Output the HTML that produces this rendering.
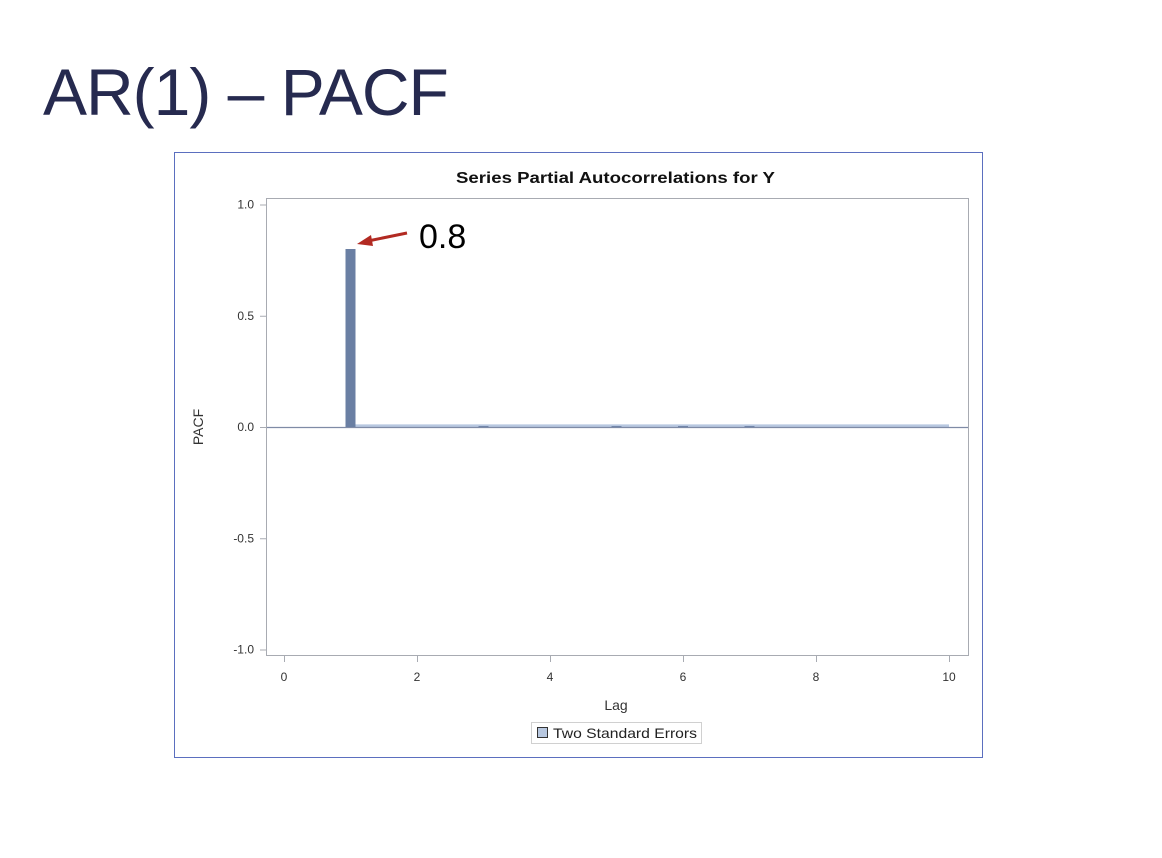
<!DOCTYPE html>
<html><head><meta charset="utf-8"><style>
body{margin:0;background:#fff;width:1162px;height:858px;overflow:hidden;font-family:"Liberation Sans",sans-serif}
#title{position:absolute;left:43px;top:52px;font-size:66px;color:#262a4f;letter-spacing:-1px;margin:0;font-weight:normal;line-height:80px}
</style></head><body>
<h1 id="title">AR(1) – PACF</h1>
<svg id="chart" width="1162" height="858" style="position:absolute;left:0;top:0" font-family="Liberation Sans, sans-serif">
<rect x="174.5" y="152.5" width="808" height="605" fill="none" stroke="#5b6fbf" stroke-width="1"/>
<text x="456" y="183" textLength="319" lengthAdjust="spacingAndGlyphs" font-size="16" font-weight="bold" fill="#111">Series Partial Autocorrelations for Y</text>
<rect x="266.5" y="198.5" width="702" height="457" fill="none" stroke="#a8abb2"/>
<g id="yaxis"></g><g id="xaxis"></g><g id="marks"></g>
<text transform="translate(203,427) rotate(-90)" text-anchor="middle" font-size="14" fill="#333">PACF</text>
<text x="616" y="710" text-anchor="middle" font-size="14" fill="#333">Lag</text>
<g>
<rect x="531.5" y="722.5" width="170" height="21" fill="#fff" stroke="#d0d0d0"/>
<rect x="537.5" y="727.5" width="10" height="10" fill="#b8c8e0" stroke="#333"/>
<text x="553" y="738" textLength="144" lengthAdjust="spacingAndGlyphs" font-size="14" fill="#222">Two Standard Errors</text>
</g>
<g>
<line x1="407" y1="233" x2="368" y2="241" stroke="#b22a22" stroke-width="3"/>
<polygon points="357,244 371,235 373,246" fill="#b22a22"/>
<text x="419" y="248" font-size="34" fill="#000">0.8</text>
</g>
</svg>
<script>
const yTicks=[1.0,0.5,0.0,-0.5,-1.0];
const yTickLabels=["1.0","0.5","0.0","-0.5","-1.0"];
const xTicks=[0,2,4,6,8,10];
const lags=[1,2,3,4,5,6,7,8,9,10];
const pacf=[0.8,0.0,0.004,0.0,0.004,0.004,0.004,0.0,0.0,0.0];
const stdErr=[0.012,0.012,0.012,0.012,0.012,0.012,0.012,0.012,0.012,0.012];
const NS='http://www.w3.org/2000/svg';
const y=v=>427-v*222.5, x=v=>284+v*66.5;
function mk(tag,attrs,parent){const e=document.createElementNS(NS,tag);for(const k in attrs)e.setAttribute(k,attrs[k]);parent.appendChild(e);return e;}
const ya=document.getElementById('yaxis'),xa=document.getElementById('xaxis'),m=document.getElementById('marks');
yTicks.forEach((v,i)=>{
 const t=mk('line',{x1:260,x2:266,y1:y(v)+.5,y2:y(v)+.5,stroke:'#a8abb2'},ya);
 
 
 const l=mk('text',{x:254,y:y(v)+4,'text-anchor':'end','font-size':12,fill:'#333'},ya);
 
 
 l.textContent=yTickLabels[i];
});
xTicks.forEach(v=>{
 const t=mk('line',{x1:x(v)+.5,x2:x(v)+.5,y1:656,y2:662,stroke:'#a8abb2'},xa);
 
 
 const l=mk('text',{x:x(v),y:681,'text-anchor':'middle','font-size':12,fill:'#333'},xa);
 
 
 l.textContent=v;
});
let pts=[];lags.forEach((l,i)=>pts.push(x(l)+','+y(stdErr[i])));
for(let i=lags.length-1;i>=0;i--)pts.push(x(lags[i])+','+y(0));
const band=mk('polygon',{points:pts.join(' '),fill:'#b8c8e0'},m);


const zl=mk('line',{x1:267,x2:968,y1:y(0)+.5,y2:y(0)+.5,stroke:'#7f8ba6','stroke-width':1.2},m);


lags.forEach((l,i)=>{
 const v=pacf[i];if(v===0)return;
 const top=Math.min(y(v),y(0)),h=Math.max(Math.abs(y(v)-y(0)),1);
 const b=mk('rect',{x:x(l)-5,y:top,width:10,height:h,fill:'#6a7fa3'},m);
 
 
});
</script>
</body></html>
